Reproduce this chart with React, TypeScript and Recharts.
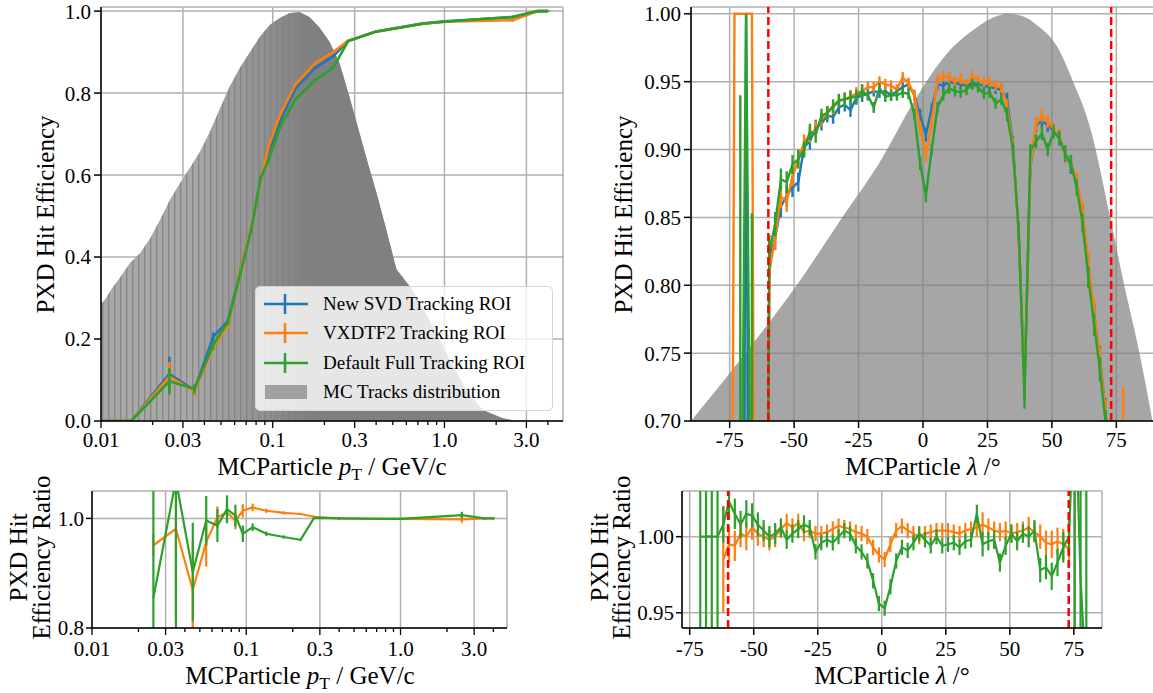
import React from "react";
import {
  ComposedChart,
  Line,
  Area,
  XAxis,
  YAxis,
  CartesianGrid,
  ErrorBar,
  ReferenceLine,
  Legend,
} from "recharts";

const SERIF = '"Liberation Serif", "Times New Roman", Times, serif';
const C_NEW = "#1f77b4";
const C_VXD = "#ff7f0e";
const C_FULL = "#2ca02c";
const GRID = "#b0b0b0";
const ACCEPT = "#ff0000";

// ---------- transverse momentum (GeV/c) ----------
const ptBins = [0.005, 0.015, 0.025, 0.035, 0.045, 0.055, 0.065, 0.075, 0.085, 0.095, 0.11, 0.135, 0.175, 0.225, 0.275, 0.4, 0.75, 1.0, 2.5, 3.5, 4.0];
const effNewPt = [0, 0, 0.115, 0.075, 0.205, 0.245, 0.37, 0.47, 0.59, 0.66, 0.73, 0.81, 0.86, 0.89, 0.927, 0.95, 0.97, 0.975, 0.985, 1.0, 1.0];
const effVxdPt = [0, 0, 0.108, 0.072, 0.18, 0.235, 0.37, 0.475, 0.588, 0.672, 0.746, 0.82, 0.872, 0.9, 0.928, 0.95, 0.969, 0.974, 0.978, 1.0, 1.0];
const effFullPt = [0, 0, 0.097, 0.078, 0.185, 0.243, 0.362, 0.468, 0.593, 0.638, 0.716, 0.784, 0.83, 0.862, 0.927, 0.95, 0.969, 0.974, 0.986, 1.0, 1.0];
const errNewPt = [0, 0, 0.042, 0.012, 0.011, 0.009, 0.008, 0.006, 0.005, 0.004, 0.004, 0.003, 0.003, 0.003, 0.002, 0.002, 0.002, 0.002, 0.003, 0.002, 0.002];
const errVxdPt = [0, 0, 0.036, 0.012, 0.011, 0.009, 0.008, 0.006, 0.005, 0.004, 0.004, 0.003, 0.003, 0.003, 0.002, 0.002, 0.002, 0.002, 0.004, 0.002, 0.002];
const errFullPt = [0, 0, 0.032, 0.011, 0.011, 0.009, 0.008, 0.006, 0.005, 0.004, 0.004, 0.003, 0.003, 0.003, 0.002, 0.002, 0.002, 0.002, 0.003, 0.002, 0.002];
const ratioVxdPt = [null, null, 0.951, 0.981, 0.869, 0.957, 1.002, 1.011, 0.996, 1.014, 1.02, 1.014, 1.01, 1.008, 1.003, 1.0, 0.999, 0.999, 0.998, 1.0, 1.0];
const ratioFullPt = [null, null, 0.855, 1.07, 0.902, 0.996, 0.987, 1.017, 1.005, 0.972, 0.984, 0.972, 0.966, 0.961, 1.001, 1.0, 0.999, 0.999, 1.006, 1.0, 1.0];
const ratioErrVxdPt = [0, 0, 0.02, 0.17, 0.09, 0.045, 0.02, 0.02, 0.016, 0.012, 0.007, 0.004, 0.003, 0.002, 0.002, 0.002, 0.002, 0.002, 0.006, 0.002, 0.002];
const ratioErrFullPt = [0, 0, 0.3, 0.3, 0.09, 0.045, 0.03, 0.025, 0.02, 0.015, 0.007, 0.004, 0.003, 0.002, 0.002, 0.002, 0.002, 0.002, 0.006, 0.002, 0.002];

// MC track pT distribution, scaled to its maximum
const mcPt = [0.01, 0.0107, 0.0116, 0.0129, 0.0147, 0.0169, 0.0193, 0.022, 0.0252, 0.0288, 0.0329, 0.0376, 0.043, 0.049, 0.056, 0.064, 0.073, 0.084, 0.096, 0.11, 0.125, 0.143, 0.164, 0.187, 0.214, 0.245, 0.28, 0.307, 0.352, 0.402, 0.459, 0.525, 0.65, 0.785, 0.92, 1.07, 1.34, 1.67, 2.18, 2.6];
const mcPtCount = [0.285, 0.3, 0.324, 0.35, 0.385, 0.41, 0.445, 0.49, 0.54, 0.58, 0.617, 0.656, 0.705, 0.76, 0.815, 0.86, 0.897, 0.937, 0.966, 0.983, 0.995, 0.998, 0.985, 0.96, 0.925, 0.873, 0.79, 0.73, 0.64, 0.556, 0.466, 0.37, 0.32, 0.26, 0.205, 0.15, 0.075, 0.027, 0.007, 0];

const ptMajorTicks = [0.01, 0.03, 0.1, 0.3, 1, 3];
const ptTickLabels = ["0.01", "0.03", "0.1", "0.3", "1.0", "3.0"];
const ptAllTicks = [0.01, 0.02, 0.03, 0.04, 0.05, 0.06, 0.07, 0.08, 0.09, 0.1, 0.2, 0.3, 0.4, 0.5, 0.6, 0.7, 0.8, 0.9, 1, 2, 3, 4];
const PT_DOMAIN = [0.01, 4.9];

// ---------- dip angle lambda (deg) ----------
const lamBins = [
  -75.375, -73.125, -70.875, -68.625, -66.375, -64.125, -61.875, -59.625, -57.375, -55.125,
  -52.875, -50.625, -48.375, -46.125, -43.875, -41.625, -39.375, -37.125, -34.875, -32.625,
  -30.375, -28.125, -25.875, -23.625, -21.375, -19.125, -16.875, -14.625, -12.375, -10.125,
  -7.875, -5.625, -3.375, -1.125, 1.125, 3.375, 5.625, 7.875, 10.125, 12.375,
  14.625, 16.875, 19.125, 21.375, 23.625, 25.875, 28.125, 30.375, 32.625, 34.875,
  37.125, 39.375, 41.625, 43.875, 46.125, 48.375, 50.625, 52.875, 55.125, 57.375,
  59.625, 61.875, 64.125, 66.375, 68.625, 70.875, 73.125, 75.375, 77.625, 79.875,
];
const effNewLam = [
  0, 0, 0, 1.0, 0, 0, 0, 0.82, 0.835, 0.858,
  0.866, 0.872, 0.876, 0.902, 0.906, 0.916, 0.919, 0.925, 0.924, 0.931,
  0.933, 0.929, 0.938, 0.94, 0.941, 0.943, 0.942, 0.943, 0.94, 0.943,
  0.946, 0.948, 0.94, 0.925, 0.911, 0.93, 0.948, 0.947, 0.95, 0.949,
  0.948, 0.947, 0.949, 0.948, 0.947, 0.946, 0.945, 0.944, 0.937, 0.905,
  0.838, 0.725, 0.886, 0.918, 0.921, 0.918, 0.914, 0.908, 0.897, 0.888,
  0.876, 0.853, 0.815, 0.779, 0.746, 0.707, 0.62, 0.55, 0.5, 0.45,
];
const effVxdLam = [
  0, 1.0, 1.0, 1.0, 1.0, 0, 0, 0.81, 0.835, 0.865,
  0.862, 0.88, 0.893, 0.905, 0.911, 0.915, 0.922, 0.927, 0.931, 0.936,
  0.937, 0.939, 0.941, 0.943, 0.946, 0.946, 0.95, 0.948, 0.947, 0.944,
  0.953, 0.949, 0.94, 0.916, 0.896, 0.92, 0.951, 0.954, 0.953, 0.95,
  0.952, 0.948, 0.954, 0.951, 0.95, 0.95, 0.947, 0.946, 0.932, 0.903,
  0.836, 0.724, 0.888, 0.919, 0.925, 0.921, 0.915, 0.91, 0.896, 0.89,
  0.877, 0.855, 0.817, 0.781, 0.745, 0.706, 0.61, 0.5, 0.6, 0.4,
];
const effFullLam = [
  0, 0, 0.5, 1.0, 0.5, 0, 0, 0.825, 0.845, 0.878,
  0.876, 0.889, 0.893, 0.9, 0.913, 0.911, 0.925, 0.927, 0.932, 0.936,
  0.937, 0.938, 0.939, 0.943, 0.94, 0.931, 0.945, 0.939, 0.94, 0.94,
  0.942, 0.941, 0.926, 0.89, 0.866, 0.9, 0.931, 0.94, 0.945, 0.943,
  0.942, 0.944, 0.948, 0.946, 0.941, 0.942, 0.934, 0.937, 0.926, 0.9,
  0.84, 0.717, 0.899, 0.906, 0.912, 0.9, 0.913, 0.909, 0.897, 0.89,
  0.872, 0.846, 0.806, 0.771, 0.738, 0.698, 0.6, 0.52, 0.5, 0.45,
];
const errNewLam = [
  0, 0, 0, 0, 0, 0, 0, 0.012, 0.009, 0.008,
  0.008, 0.007, 0.007, 0.006, 0.006, 0.006, 0.005, 0.005, 0.005, 0.005,
  0.005, 0.005, 0.005, 0.005, 0.004, 0.004, 0.004, 0.004, 0.004, 0.004,
  0.004, 0.004, 0.004, 0.005, 0.005, 0.004, 0.004, 0.004, 0.004, 0.004,
  0.004, 0.004, 0.004, 0.004, 0.004, 0.004, 0.004, 0.004, 0.005, 0.005,
  0.006, 0.008, 0.005, 0.005, 0.005, 0.005, 0.005, 0.005, 0.006, 0.006,
  0.006, 0.007, 0.008, 0.008, 0.009, 0.01, 0, 0, 0, 0,
];
const errVxdLam = [
  0, 0, 0, 0, 0, 0, 0, 0.012, 0.009, 0.008,
  0.008, 0.007, 0.007, 0.006, 0.006, 0.006, 0.005, 0.005, 0.005, 0.005,
  0.005, 0.005, 0.005, 0.005, 0.004, 0.004, 0.004, 0.004, 0.004, 0.004,
  0.004, 0.004, 0.004, 0.005, 0.005, 0.004, 0.004, 0.004, 0.004, 0.004,
  0.004, 0.004, 0.004, 0.004, 0.004, 0.004, 0.004, 0.004, 0.005, 0.005,
  0.006, 0.008, 0.005, 0.005, 0.005, 0.005, 0.005, 0.005, 0.006, 0.006,
  0.006, 0.007, 0.008, 0.008, 0.009, 0.01, 0, 0, 0.125, 0,
];
const errFullLam = [
  0, 0, 0.44, 0, 0.353, 0, 0, 0.012, 0.009, 0.008,
  0.008, 0.007, 0.007, 0.006, 0.006, 0.006, 0.005, 0.005, 0.005, 0.005,
  0.005, 0.005, 0.005, 0.005, 0.004, 0.004, 0.004, 0.004, 0.004, 0.004,
  0.004, 0.004, 0.004, 0.005, 0.005, 0.004, 0.004, 0.004, 0.004, 0.004,
  0.004, 0.004, 0.004, 0.004, 0.004, 0.004, 0.004, 0.004, 0.005, 0.005,
  0.006, 0.008, 0.005, 0.005, 0.005, 0.005, 0.005, 0.005, 0.006, 0.006,
  0.006, 0.007, 0.008, 0.008, 0.009, 0.01, 0, 0, 0, 0,
];
const ratioVxdLam = [
  null, null, null, 1.0, 1.0, null, 0.985, 0.995, 0.994, 1.002,
  1.0, 1.006, 1.002, 1.0, 0.998, 1.0, 1.005, 1.009, 1.006, 1.009,
  1.003, 1.004, 1.002, 1.002, 1.003, 1.005, 1.007, 1.006, 1.005, 1.003,
  1.002, 1.0, 0.993, 0.988, 0.985, 0.995, 1.004, 1.007, 1.004, 1.002,
  1.0, 1.002, 1.003, 1.004, 1.004, 1.004, 1.003, 1.002, 1.004, 1.005,
  1.006, 1.008, 1.006, 1.004, 1.003, 1.004, 1.002, 1.003, 1.004, 1.006,
  1.003, 1.0, 0.996, 0.995, 0.997, 0.995, 0.992, null, null, null,
];
const ratioFullLam = [
  null, null, 1.0, 1.0, 1.0, 1.0, 1.008, 1.023, 1.015, 1.008,
  1.015, 1.014, 1.008, 1.004, 1.0, 1.002, 1.006, 0.998, 1.002, 1.005,
  1.008, 1.006, 0.99, 0.996, 0.998, 0.996, 1.0, 1.004, 1.002, 0.994,
  0.99, 0.984, 0.971, 0.956, 0.953, 0.967, 0.984, 0.993, 0.991, 0.996,
  1.002, 0.998, 0.994, 1.0, 0.994, 0.995, 0.996, 0.993, 0.997, 0.998,
  1.015, 0.995, 0.997, 0.998, 0.983, 0.994, 1.002, 0.997, 1.002, 1.0,
  1.004, 0.978, 0.98, 0.974, 0.983, 0.993, 1.0, 1.1, 0.973, 0.9,
];
const ratioErrVxdLam = [
  0, 0, 0, 0, 0, 0, 0.035, 0.012, 0.01, 0.009,
  0.009, 0.008, 0.008, 0.007, 0.007, 0.007, 0.006, 0.006, 0.006, 0.006,
  0.006, 0.005, 0.005, 0.005, 0.005, 0.005, 0.005, 0.005, 0.005, 0.005,
  0.005, 0.005, 0.005, 0.005, 0.005, 0.005, 0.005, 0.005, 0.005, 0.005,
  0.005, 0.005, 0.005, 0.005, 0.005, 0.005, 0.005, 0.005, 0.005, 0.005,
  0.006, 0.008, 0.006, 0.006, 0.006, 0.006, 0.006, 0.006, 0.006, 0.007,
  0.007, 0.008, 0.008, 0.009, 0.009, 0.01, 0.012, 0, 0, 0,
];
const ratioErrFullLam = [
  0, 0, 0.5, 0.5, 0.5, 0.5, 0.012, 0.012, 0.01, 0.009,
  0.009, 0.008, 0.008, 0.007, 0.007, 0.007, 0.006, 0.006, 0.006, 0.006,
  0.006, 0.005, 0.005, 0.005, 0.005, 0.005, 0.005, 0.005, 0.005, 0.005,
  0.005, 0.005, 0.005, 0.005, 0.005, 0.005, 0.005, 0.005, 0.005, 0.005,
  0.005, 0.005, 0.005, 0.005, 0.005, 0.005, 0.005, 0.005, 0.005, 0.005,
  0.006, 0.008, 0.006, 0.006, 0.006, 0.006, 0.006, 0.006, 0.006, 0.007,
  0.007, 0.008, 0.008, 0.009, 0.009, 0.01, 0.012, 0.5, 0.5, 0.5,
];

// MC track lambda distribution, scaled to its maximum
const mcLam = [-90, -66, -49, -32, -17, -3, 9, 21, 27, 33, 39, 44, 52, 58, 65, 72.5, 77.6, 84, 89];
const mcLamCount = [0.7, 0.757, 0.8, 0.848, 0.89, 0.937, 0.97, 0.99, 0.997, 1.0, 0.998, 0.992, 0.976, 0.951, 0.915, 0.851, 0.804, 0.75, 0.7];

const lamTicks = [-75, -50, -25, 0, 25, 50, 75];
const PXD_ACCEPTANCE = [-60, 73];

const ptRows = ptBins.map((pt, i) => ({
  pt,
  eNew: effNewPt[i], eNewErr: errNewPt[i],
  eVxd: effVxdPt[i], eVxdErr: errVxdPt[i],
  eFull: effFullPt[i], eFullErr: errFullPt[i],
  rVxd: ratioVxdPt[i], rVxdErr: ratioErrVxdPt[i],
  rFull: ratioFullPt[i], rFullErr: ratioErrFullPt[i],
}));
const mcPtRows = mcPt.map((pt, i) => ({ pt, mc: mcPtCount[i] }));

const lamRows = lamBins.map((lam, i) => ({
  lam,
  eNew: effNewLam[i], eNewErr: errNewLam[i],
  eVxd: effVxdLam[i], eVxdErr: errVxdLam[i],
  eFull: effFullLam[i], eFullErr: errFullLam[i],
  rVxd: ratioVxdLam[i], rVxdErr: ratioErrVxdLam[i],
  rFull: ratioFullLam[i], rFullErr: ratioErrFullLam[i],
}));
const mcLamRows = mcLam.map((lam, i) => ({ lam, mc: mcLamCount[i] }));

// panel geometry: chart size, margins and axis sizes
const Y_W = 70;
const X_H = 30;
const panels = {
  ptEff: { left: 0, top: 0, width: 580, height: 470, margin: { top: 7, right: 17, bottom: 19, left: 31 } },
  lamEff: { left: 600, top: 0, width: 560, height: 470, margin: { top: 7, right: 5, bottom: 19, left: 21 } },
  ptRatio: { left: 0, top: 480, width: 580, height: 213, margin: { top: 11, right: 73, bottom: 35, left: 22 } },
  lamRatio: { left: 600, top: 480, width: 560, height: 213, margin: { top: 11, right: 58, bottom: 35, left: 12 } },
};

// plot-area clip so that long error bars stop at the frame
const PlotClip = ({ id, p }: any) => (
  <defs>
    <clipPath id={id}>
      <rect
        x={p.margin.left + Y_W}
        y={p.margin.top}
        width={p.width - p.margin.left - Y_W - p.margin.right}
        height={p.height - p.margin.top - p.margin.bottom - X_H}
      />
    </clipPath>
  </defs>
);

const tickFont = { fontFamily: SERIF, fontSize: 21, fill: "#000" };
const frameLine = { stroke: "#000", strokeWidth: 1.5 };

// log axis tick: long mark + label on 1x/3x values, short mark otherwise
const LogTick = (props: any) => {
  const { x, y, payload, gap } = props;
  const idx = ptMajorTicks.indexOf(payload.value);
  const major = idx >= 0;
  return (
    <g>
      <line x1={x} x2={x} y1={y} y2={y + (major ? 7 : 4)} stroke="#000" strokeWidth={1.3} />
      {major && (
        <text x={x} y={y + gap} dy="0.71em" textAnchor="middle" fill="#000" style={{ fontFamily: SERIF, fontSize: 21 }}>
          {ptTickLabels[idx]}
        </text>
      )}
    </g>
  );
};

const legendItems = [
  { label: "New SVD Tracking ROI", color: C_NEW },
  { label: "VXDTF2 Tracking ROI", color: C_VXD },
  { label: "Default Full Tracking ROI", color: C_FULL },
  { label: "MC Tracks distribution", color: null },
];

const PtLegend = () => (
  <div
    style={{
      position: "relative",
      width: 296,
      height: 123,
      background: "rgba(255,255,255,0.8)",
      border: "1px solid #d6d6d6",
      borderRadius: 5,
      fontFamily: SERIF,
      fontSize: 19,
      color: "#000",
    }}
  >
    {legendItems.map((it, i) => (
      <div key={it.label} style={{ position: "absolute", left: 0, top: 3 + i * 29.3, height: 28, width: 296 }}>
        <svg width={56} height={28} style={{ position: "absolute", left: 0, top: 0 }}>
          {it.color ? (
            <g stroke={it.color} strokeWidth={2.5}>
              <line x1={8} x2={52} y1={14} y2={14} />
              <line x1={29} x2={29} y1={4} y2={24} />
            </g>
          ) : (
            <rect x={9} y={7} width={42} height={14} fill="#a0a0a0" />
          )}
        </svg>
        <span style={{ position: "absolute", left: 67, top: 0, lineHeight: "28px", whiteSpace: "nowrap" }}>{it.label}</span>
      </div>
    ))}
  </div>
);

const HTitle = ({ cx, top, children }: any) => (
  <div
    style={{
      position: "absolute",
      left: cx - 250,
      top,
      width: 500,
      textAlign: "center",
      fontFamily: SERIF,
      fontSize: 25,
      lineHeight: "25px",
      whiteSpace: "nowrap",
    }}
  >
    {children}
  </div>
);

const VTitle = ({ cx, cy, children }: any) => (
  <div
    style={{
      position: "absolute",
      left: cx - 150,
      top: cy - 12.5,
      width: 300,
      height: 25,
      textAlign: "center",
      fontFamily: SERIF,
      fontSize: 25,
      lineHeight: "25px",
      whiteSpace: "nowrap",
      transform: "rotate(-90deg)",
    }}
  >
    {children}
  </div>
);

const PtLabel = () => (
  <span>
    MCParticle <i>p</i>
    <span style={{ fontSize: "0.7em", position: "relative", top: "0.3em" }}>T</span> / GeV/c
  </span>
);

const LamLabel = () => (
  <span>
    MCParticle <i>λ</i> /°
  </span>
);

const effLines = (xId: string, yId: string, rows: any[], width: number) =>
  [
    { key: "eNew", err: "eNewErr", color: C_NEW, name: "New SVD Tracking ROI" },
    { key: "eVxd", err: "eVxdErr", color: C_VXD, name: "VXDTF2 Tracking ROI" },
    { key: "eFull", err: "eFullErr", color: C_FULL, name: "Default Full Tracking ROI" },
  ].map((s) => (
    <Line
      key={s.key}
      xAxisId={xId}
      yAxisId={yId}
      data={rows}
      dataKey={s.key}
      name={s.name}
      type="linear"
      stroke={s.color}
      strokeWidth={width}
      dot={false}
      activeDot={false}
      isAnimationActive={false}
    >
      <ErrorBar dataKey={s.err} direction="y" width={0} stroke={s.color} strokeWidth={width} isAnimationActive={false} />
    </Line>
  ));

const ratioLines = (xId: string, yId: string, rows: any[]) =>
  [
    { key: "rVxd", err: "rVxdErr", color: C_VXD },
    { key: "rFull", err: "rFullErr", color: C_FULL },
  ].map((s) => (
    <Line
      key={s.key}
      xAxisId={xId}
      yAxisId={yId}
      data={rows}
      dataKey={s.key}
      type="linear"
      stroke={s.color}
      strokeWidth={2.2}
      dot={false}
      activeDot={false}
      isAnimationActive={false}
    >
      <ErrorBar dataKey={s.err} direction="y" width={0} stroke={s.color} strokeWidth={2.2} isAnimationActive={false} />
    </Line>
  ));

const frameAxes = (yId: string) => [
  <XAxis key="ft" xAxisId="frameTop" orientation="top" type="number" domain={[0, 1]} height={0} tick={false} tickLine={false} axisLine={frameLine} />,
  <YAxis key="fr" yAxisId="frameRight" orientation="right" type="number" domain={[0, 1]} width={0} tick={false} tickLine={false} axisLine={frameLine} />,
];

const clipCss = `
.panel-ptEff .recharts-errorBars { clip-path: url(#clip-ptEff); }
.panel-lamEff .recharts-errorBars { clip-path: url(#clip-lamEff); }
.panel-ptRatio .recharts-errorBars { clip-path: url(#clip-ptRatio); }
.panel-lamRatio .recharts-errorBars { clip-path: url(#clip-lamRatio); }
`;

export default function App() {
  const P = panels;
  return (
    <div
      style={{
        position: "fixed",
        left: 0,
        top: 0,
        width: 1153,
        height: 693,
        overflow: "hidden",
        background: "#fff",
        fontFamily: SERIF,
      }}
    >
      <style>{clipCss}</style>

      {/* efficiency vs pT */}
      <div className="panel-ptEff" style={{ position: "absolute", left: P.ptEff.left, top: P.ptEff.top }}>
        <ComposedChart width={P.ptEff.width} height={P.ptEff.height} margin={P.ptEff.margin}>
          <PlotClip id="clip-ptEff" p={P.ptEff} />
          <defs>
            <pattern id="mcPtBins" width="6" height="10" patternUnits="userSpaceOnUse">
              <rect width="6" height="10" fill="#a8a8a8" />
              <rect x="0" width="1.4" height="10" fill="#878787" />
            </pattern>
            <linearGradient id="mcPtDense" x1="0" y1="0" x2="1" y2="0">
              <stop offset="0%" stopColor="#808080" stopOpacity={0} />
              <stop offset="22%" stopColor="#808080" stopOpacity={0} />
              <stop offset="36%" stopColor="#808080" stopOpacity={0.45} />
              <stop offset="46%" stopColor="#808080" stopOpacity={0.85} />
              <stop offset="50%" stopColor="#808080" stopOpacity={1} />
              <stop offset="100%" stopColor="#808080" stopOpacity={1} />
            </linearGradient>
          </defs>
          <CartesianGrid xAxisId="ptGrid" yAxisId="eff" stroke={GRID} strokeWidth={1.5} />
          <XAxis
            xAxisId="pt"
            dataKey="pt"
            type="number"
            scale="log"
            domain={PT_DOMAIN}
            allowDataOverflow
            ticks={ptAllTicks}
            interval={0}
            tickSize={0}
            tickMargin={0}
            tickLine={false}
            tick={(p: any) => <LogTick {...p} gap={11} />}
            height={X_H}
            axisLine={frameLine}
          />
          <XAxis xAxisId="ptGrid" dataKey="pt" type="number" scale="log" domain={PT_DOMAIN} allowDataOverflow ticks={ptMajorTicks} hide />
          <YAxis
            yAxisId="eff"
            type="number"
            domain={[0, 1.01]}
            allowDataOverflow
            ticks={[0, 0.2, 0.4, 0.6, 0.8, 1.0]}
            interval={0}
            tickFormatter={(v: number) => v.toFixed(1)}
            width={Y_W}
            tickSize={7}
            tickMargin={3}
            tick={tickFont}
            tickLine={frameLine}
            axisLine={frameLine}
          />
          {frameAxes("eff")}
          <Area
            xAxisId="pt"
            yAxisId="eff"
            data={mcPtRows}
            dataKey="mc"
            name="MC Tracks distribution"
            type="linear"
            fill="url(#mcPtBins)"
            fillOpacity={1}
            stroke="none"
            isAnimationActive={false}
          />
          <Area
            xAxisId="pt"
            yAxisId="eff"
            data={mcPtRows}
            dataKey="mc"
            type="linear"
            fill="url(#mcPtDense)"
            fillOpacity={1}
            stroke="none"
            isAnimationActive={false}
          />
          {effLines("pt", "eff", ptRows, 2.6)}
          <Legend
            layout="vertical"
            align="center"
            verticalAlign="middle"
            content={() => <PtLegend />}
            wrapperStyle={{ left: 255, top: 286, width: 298, height: 125 }}
          />
        </ComposedChart>
      </div>

      {/* efficiency vs lambda */}
      <div className="panel-lamEff" style={{ position: "absolute", left: P.lamEff.left, top: P.lamEff.top }}>
        <ComposedChart width={P.lamEff.width} height={P.lamEff.height} margin={P.lamEff.margin}>
          <PlotClip id="clip-lamEff" p={P.lamEff} />
          <CartesianGrid xAxisId="lam" yAxisId="eff" stroke={GRID} strokeWidth={1.5} />
          <XAxis
            xAxisId="lam"
            dataKey="lam"
            type="number"
            domain={[-90, 90]}
            allowDataOverflow
            ticks={lamTicks}
            interval={0}
            tickSize={7}
            tickMargin={4}
            tick={tickFont}
            tickLine={frameLine}
            height={X_H}
            axisLine={frameLine}
          />
          <YAxis
            yAxisId="eff"
            type="number"
            domain={[0.7, 1.005]}
            allowDataOverflow
            ticks={[0.7, 0.75, 0.8, 0.85, 0.9, 0.95, 1.0]}
            interval={0}
            tickFormatter={(v: number) => v.toFixed(2)}
            width={Y_W}
            tickSize={7}
            tickMargin={3}
            tick={tickFont}
            tickLine={frameLine}
            axisLine={frameLine}
          />
          {frameAxes("eff")}
          <Area
            xAxisId="lam"
            yAxisId="eff"
            data={mcLamRows}
            dataKey="mc"
            type="monotone"
            fill="#808080"
            fillOpacity={0.7}
            stroke="none"
            isAnimationActive={false}
          />
          {effLines("lam", "eff", lamRows, 2.4)}
          {PXD_ACCEPTANCE.map((x) => (
            <ReferenceLine key={x} xAxisId="lam" yAxisId="eff" x={x} stroke={ACCEPT} strokeWidth={2.5} strokeDasharray="8 4" />
          ))}
        </ComposedChart>
      </div>

      {/* ratio vs pT */}
      <div className="panel-ptRatio" style={{ position: "absolute", left: P.ptRatio.left, top: P.ptRatio.top }}>
        <ComposedChart width={P.ptRatio.width} height={P.ptRatio.height} margin={P.ptRatio.margin}>
          <PlotClip id="clip-ptRatio" p={P.ptRatio} />
          <CartesianGrid xAxisId="ptGrid" yAxisId="ratio" stroke={GRID} strokeWidth={1.5} />
          <XAxis
            xAxisId="pt"
            dataKey="pt"
            type="number"
            scale="log"
            domain={PT_DOMAIN}
            allowDataOverflow
            ticks={ptAllTicks}
            interval={0}
            tickSize={0}
            tickMargin={0}
            tickLine={false}
            tick={(p: any) => <LogTick {...p} gap={13} />}
            height={X_H}
            axisLine={frameLine}
          />
          <XAxis xAxisId="ptGrid" dataKey="pt" type="number" scale="log" domain={PT_DOMAIN} allowDataOverflow ticks={ptMajorTicks} hide />
          <YAxis
            yAxisId="ratio"
            type="number"
            domain={[0.8, 1.05]}
            allowDataOverflow
            ticks={[0.8, 1.0]}
            interval={0}
            tickFormatter={(v: number) => v.toFixed(1)}
            width={Y_W}
            tickSize={6}
            tickMargin={2}
            tick={tickFont}
            tickLine={frameLine}
            axisLine={frameLine}
          />
          {frameAxes("ratio")}
          {ratioLines("pt", "ratio", ptRows)}
        </ComposedChart>
      </div>

      {/* ratio vs lambda */}
      <div className="panel-lamRatio" style={{ position: "absolute", left: P.lamRatio.left, top: P.lamRatio.top }}>
        <ComposedChart width={P.lamRatio.width} height={P.lamRatio.height} margin={P.lamRatio.margin}>
          <PlotClip id="clip-lamRatio" p={P.lamRatio} />
          <CartesianGrid xAxisId="lam" yAxisId="ratio" stroke={GRID} strokeWidth={1.5} />
          <XAxis
            xAxisId="lam"
            dataKey="lam"
            type="number"
            domain={[-78, 86]}
            allowDataOverflow
            ticks={lamTicks}
            interval={0}
            tickSize={7}
            tickMargin={6}
            tick={tickFont}
            tickLine={frameLine}
            height={X_H}
            axisLine={frameLine}
          />
          <YAxis
            yAxisId="ratio"
            type="number"
            domain={[0.94, 1.03]}
            allowDataOverflow
            ticks={[0.95, 1.0]}
            interval={0}
            tickFormatter={(v: number) => v.toFixed(2)}
            width={Y_W}
            tickSize={6}
            tickMargin={2}
            tick={tickFont}
            tickLine={frameLine}
            axisLine={frameLine}
          />
          {frameAxes("ratio")}
          {ratioLines("lam", "ratio", lamRows)}
          {PXD_ACCEPTANCE.map((x) => (
            <ReferenceLine key={x} xAxisId="lam" yAxisId="ratio" x={x} stroke={ACCEPT} strokeWidth={2.5} strokeDasharray="8 4" />
          ))}
        </ComposedChart>
      </div>

      <VTitle cx={45} cy={214}>PXD Hit Efficiency</VTitle>
      <VTitle cx={623} cy={214}>PXD Hit Efficiency</VTitle>
      <VTitle cx={18} cy={557}>PXD Hit</VTitle>
      <VTitle cx={41} cy={557}>Efficiency Ratio</VTitle>
      <VTitle cx={599} cy={557}>PXD Hit</VTitle>
      <VTitle cx={621} cy={557}>Efficiency Ratio</VTitle>

      <HTitle cx={332} top={454}><PtLabel /></HTitle>
      <HTitle cx={923} top={454}><LamLabel /></HTitle>
      <HTitle cx={300} top={663}><PtLabel /></HTitle>
      <HTitle cx={892} top={663}><LamLabel /></HTitle>
    </div>
  );
}
